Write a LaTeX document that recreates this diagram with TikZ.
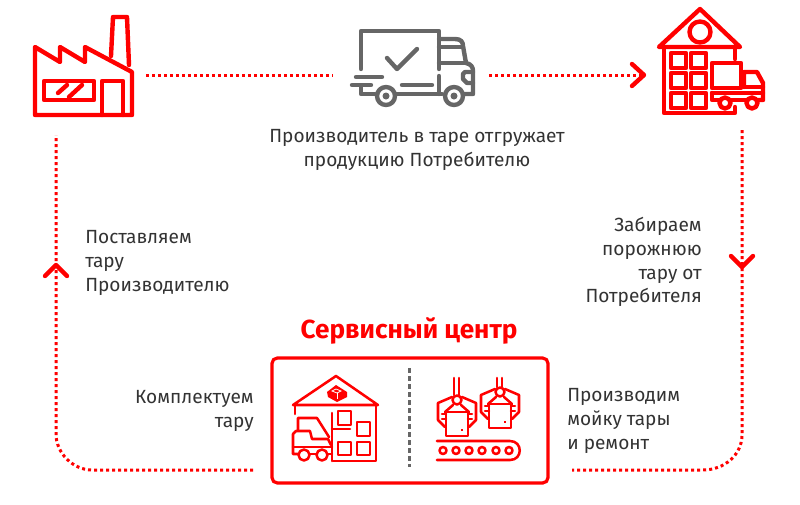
\documentclass[tikz,border=0pt]{standalone}
\usepackage{fontspec}
\setmainfont{Fira Sans}
\definecolor{brandred}{RGB}{255,0,0}
\definecolor{icongray}{RGB}{102,102,102}
\definecolor{textgray}{RGB}{51,51,51}
\tikzset{
  iconred/.style={draw=brandred,line width=3.3pt,line join=round,line cap=round},
  iconthin/.style={draw=brandred,line width=1.9pt,line join=round,line cap=round},
  icontruck/.style={draw=icongray,line width=3.3pt,line join=round,line cap=round},
  dotline/.style={draw=brandred,line width=2.25pt,dash pattern=on 2.25pt off 2.25pt},
  tipline/.style={draw=brandred,line width=3.3pt,line cap=round,line join=round},
  lbl/.style={text=textgray,font=\fontsize{14.3}{17.8}\selectfont,inner sep=0pt}
}
\begin{document}
\begin{tikzpicture}[x=0.75pt,y=-0.75pt]
\useasboundingbox (0,0) rectangle (800,504);

% connector ends
\coordinate (factoryout) at (146,75);
\coordinate (truckin) at (333,75);
\coordinate (truckout) at (489,75);
\coordinate (storein) at (641,75);
\coordinate (storeout) at (742,130);
\coordinate (centerin) at (572,470);
\coordinate (centerout) at (253,470);
\coordinate (factoryin) at (56,135);
\coordinate (rightup) at (742,435);
\coordinate (rightctrla) at (742,455);
\coordinate (rightctrlb) at (724,470);
\coordinate (rightdown) at (703,470);
\coordinate (leftdown) at (92,470);
\coordinate (leftctrla) at (73,470);
\coordinate (leftctrlb) at (56,453);
\coordinate (leftup) at (56,434);

\draw[dotline] (factoryout) -- (truckin);
\draw[dotline] (truckout) -- (storein);
\draw[dotline] (storeout) -- (rightup) .. controls (rightctrla) and (rightctrlb) .. (rightdown) -- (centerin);
\draw[dotline] (centerout) -- (leftdown) .. controls (leftctrla) and (leftctrlb) .. (leftup) -- (factoryin);

% arrow tips
\draw[tipline] (632,64) -- (644,75) -- (632,86);
\draw[tipline] (731,256) -- (742,267) -- (753,256);
\draw[tipline] (45,276) -- (56,265) -- (67,276);

% factory
\draw[iconred] (35,47) -- (35,115) -- (132,115) -- (132,72) -- (85,47) -- (85,62) -- (60,47) -- (60,62) -- cycle;
\draw[iconred] (111,56) -- (113,17) -- (127,17) -- (129,65);
\draw[iconred] (44,81) rectangle (94,100);
\draw[iconred] (58,93) -- (67,85);
\draw[iconred] (69,97) -- (82,85);
\draw[iconred] (102,115) -- (102,81) -- (123,81) -- (123,115);

% truck
\draw[icontruck] (361,69) -- (361,31) -- (439,31) -- (439,69);
\draw[icontruck] (387,58) -- (397,69) -- (417,49);
\draw[icontruck] (356,77) -- (382,77);
\draw[icontruck] (352,85) -- (371,85);
\draw[icontruck] (361,86) -- (361,94) -- (375,94);
\draw[icontruck] (402,85) -- (432,85);
\draw[icontruck] (395,94) -- (442,94);
\draw[icontruck] (439,76) -- (439,94);
\draw[icontruck] (439,39) -- (455,39) .. controls (461,39) and (463,42) .. (463,46) -- (466,63) .. controls (471,64) and (473,67) .. (473,71) -- (473,94) -- (465,94);
\draw[icontruck] (439,47) -- (462,47);
\draw[icontruck] (439,63) -- (466,63);
\draw[icontruck] (473,72) -- (465,72) -- (463,74) -- (463,79) -- (467,83) -- (473,83);
\foreach \wx in {386,454} {
  \draw[icontruck] (\wx,96) circle (9);
  \fill[icongray] (\wx,96) circle (3.5);
}

% warehouse with truck
\draw[iconred] (659,47) -- (700,9) -- (740,47) -- cycle;
\draw[iconred] (700,32) circle (10.5);
\draw[iconred] (664,47) -- (664,113) -- (735,113) -- (735,107);
\draw[iconred] (735,47) -- (735,59);
\foreach \gx in {671,691} {
  \foreach \gy in {53,73,93} {
    \draw[iconred] (\gx,\gy) rectangle ++(15,15);
  }
}
\draw[iconred] (712,63) rectangle (741,88);
\draw[iconred] (744,87) -- (744,72) -- (757,72) -- (763,83) -- (763,100) -- (758,100);
\draw[iconred] (744,87) -- (763,87);
\draw[iconred] (712,93) -- (712,100) -- (719,100);
\draw[iconred] (712,93) -- (763,93);
\draw[iconred] (731,100) -- (746,100);
\draw[iconred] (725,103) circle (5.5);
\draw[iconred] (752,103) circle (5.5);

% labels
\node[lbl,align=center] (shiplabel) at (417,150) {Производитель в таре отгружает\\продукцию Потребителю};
\node[lbl,align=right,anchor=east] (picklabel) at (702,262) {Забираем\\порожнюю\\тару от\\Потребителя};
\node[lbl,align=left,anchor=west] (supplylabel) at (85,263) {Поставляем\\тару\\Производителю};
\node[lbl,align=right,anchor=east] (packlabel) at (254,411) {Комплектуем\\тару};
\node[lbl,align=left,anchor=west] (washlabel) at (567,421) {Производим\\мойку тары\\и ремонт};
\node[text=brandred,font=\fontsize{19.6}{22}\selectfont\bfseries,inner sep=0pt] (centertitle) at (409,331) {Сервисный центр};

% service center
\draw[draw=brandred,line width=2.4pt,rounded corners=4pt] (272,358) rectangle (548,483);
\draw[draw=icongray,line width=2.25pt,dash pattern=on 3.75pt off 2.25pt] (409,368) -- (409,467);

% center warehouse
\draw[iconthin] (293,405) -- (336,376) -- (378,405) -- cycle;
\draw[iconthin] (295,405) -- (295,414);
\draw[iconthin] (376,405) -- (376,461) -- (333,461);
\fill[brandred] (327,392) -- (336,385) -- (347,392) -- (347,397) -- (337,402) -- (328,397) -- cycle;
\draw[draw=white,line width=0.6pt] (332,391) -- (336,389) -- (341,391) -- (337,393) -- cycle;
\draw[draw=white,line width=0.6pt] (337,393) -- (337,399);
\draw[iconthin] (338,411) rectangle (351,425);
\draw[iconthin] (357,422) rectangle (370,436);
\draw[iconthin] (338,442) rectangle (351,455);
\draw[iconthin] (357,442) rectangle (370,455);
\draw[iconthin] (332,413) -- (332,461);
\draw[iconthin] (332,429) -- (350,429);
\draw[iconthin] (298,430) -- (298,418) -- (317,418) -- (329,437);
\draw[iconthin] (298,454) -- (293,454) -- (293,434) -- (296,431) -- (310,431) -- (312,439) -- (328,439) -- (331,445);
\draw[iconthin] (293,447) -- (332,447);
\draw[iconthin] (310,454) -- (317,454);
\draw[iconthin] (328,454) -- (332,454);
\draw[iconthin] (304,455) circle (5.5);
\draw[iconthin] (322,455) circle (5.5);

% grippers
\foreach \sx/\sy/\rodtop in {0/0/378,43/-8/386} {
  \begin{scope}[shift={(\sx,\sy)}]
    \draw[iconthin] (454,\rodtop) -- (454,395);
    \draw[iconthin] (459,\rodtop) -- (459,395);
    \draw[iconthin] (457,400) circle (4.5);
    \draw[iconthin] (452,397) -- (438,403) -- (438,420) -- (445,427);
    \draw[iconthin] (462,397) -- (476,403) -- (476,420) -- (469,427);
    \draw[iconthin] (445,412) -- (453,405);
    \draw[iconthin] (469,412) -- (461,405);
    \draw[iconthin] (446,412) rectangle (468,436);
    \draw[iconthin] (442,414) -- (446,414);
    \draw[iconthin] (442,419) -- (446,419);
    \draw[iconthin] (468,414) -- (472,414);
    \draw[iconthin] (468,419) -- (472,419);
    \fill[brandred] (461,429) rectangle (463,431);
  \end{scope}
}

% conveyor
\draw[iconthin] (437,441) -- (510,441) .. controls (523,441) and (523,460) .. (510,460) -- (437,460);
\foreach \rx in {443,456,469,482,496,509} {
  \draw[iconthin] (\rx,450.5) circle (3.5);
}
\end{tikzpicture}
\end{document}
